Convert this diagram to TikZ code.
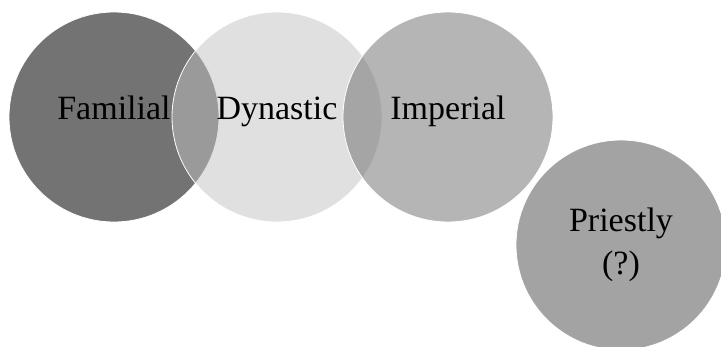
\documentclass[tikz,border=0pt]{standalone}
\usepackage{fontspec}
\setmainfont{Liberation Serif}
\usepackage{tikz}
\usetikzlibrary{positioning}
\definecolor{famgray}{RGB}{115,115,115}
\definecolor{dyngray}{RGB}{193,193,193}
\definecolor{impgray}{RGB}{107,107,107}
\definecolor{prigray}{RGB}{163,163,163}
\tikzset{
  ring/.style={circle, draw=white, line width=0.8pt, minimum size=210pt,
    inner sep=0pt, font=\fontsize{34}{43}\selectfont},
  glassring/.style={ring, fill opacity=0.5, text opacity=1},
  oneline/.style={text height=0.7em, text depth=0.15em}
}

\begin{document}
\begin{tikzpicture}[x=1pt, y=-1pt]
  \useasboundingbox (0,0) rectangle (721,346);
  \clip (0,0) rectangle (721,346);
  % three overlapping rings
  \node[ring, oneline, fill=famgray] (fam) at (114,117) {Familial};
  \node[glassring, oneline, fill=dyngray] (dyn) at (277,117) {Dynastic};
  \node[glassring, oneline, fill=impgray] (imp) at (448,117) {Imperial};
  % the doubtful one, set apart
  \node[ring, align=center, fill=prigray] (pri) at (621,245) {Priestly\\(?)};
\end{tikzpicture}
\end{document}
